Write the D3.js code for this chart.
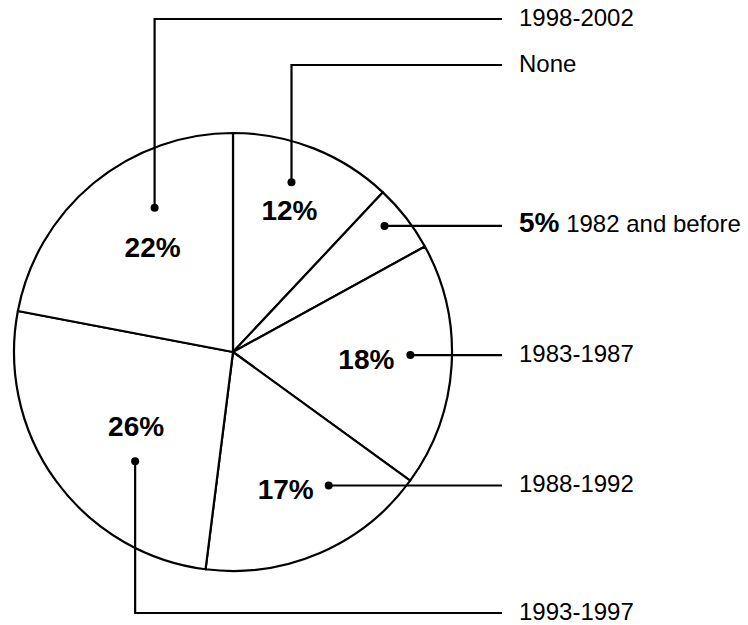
<!DOCTYPE html>
<html>
<head>
<meta charset="utf-8">
<script src="https://cdn.jsdelivr.net/npm/d3@7"></script>
<style>
  body { margin: 0; background: #fff; }
  svg { display: block; font-family: "Liberation Sans", Arial, Helvetica, sans-serif; }
</style>
</head>
<body>
<svg id="chart" width="748" height="625"></svg>
<script>
// slices in clockwise order, starting at 12 o'clock
var categories = ["None", "1982 and before", "1983-1987", "1988-1992", "1993-1997", "1998-2002"];
var values = [12, 5, 18, 17, 26, 22];

// callout layout: where the dot sits inside its slice (fraction of the slice angle, fraction of radius),
// how the leader runs out to the right, and where the bold percent goes relative to the dot
var callouts = [
  { t: 0.44, r: 0.82, elbowY: 65,   pct: [-2, 38, "middle"] },
  { t: 0.39, r: 0.90, elbowY: null, pct: null },
  { t: 0.46, r: 0.81, elbowY: null, pct: [-16, 14, "end"] },
  { t: 0.30, r: 0.75, elbowY: null, pct: [-15, 14, "end"] },
  { t: 0.37, r: 0.67, elbowY: 613,  pct: [1, -25, "middle"] },
  { t: 0.64, r: 0.75, elbowY: 19,   pct: [-2, 49, "middle"] }
];

var cx = 233, cy = 352, R = 219;
var lineEnd = 502, textX = 519;

var svg = d3.select("#chart");
var g = svg.append("g").attr("transform", "translate(" + cx + "," + cy + ")");

var pie = d3.pie().sort(null).value(function(d){ return d; });
var arcs = pie(values);
var arc = d3.arc().innerRadius(0).outerRadius(R);

g.selectAll("path.slice")
  .data(arcs)
  .enter().append("path")
  .attr("class", "slice")
  .attr("d", arc)
  .attr("fill", "#fff")
  .attr("stroke", "#000")
  .attr("stroke-width", 2.2)
  .attr("stroke-linejoin", "round");

// dot position for a slice
function dotPos(a, c) {
  var ang = a.startAngle + c.t * (a.endAngle - a.startAngle);
  var rr = c.r * R;
  return [cx + rr * Math.sin(ang), cy - rr * Math.cos(ang)];
}

arcs.forEach(function(a, i){
  var c = callouts[i];
  var p = dotPos(a, c);
  var lineY = c.elbowY === null ? p[1] : c.elbowY;
  var pts = [p];
  if (c.elbowY !== null) pts.push([p[0], c.elbowY]);
  pts.push([lineEnd, lineY]);

  svg.append("path")
    .attr("d", d3.line()(pts))
    .attr("fill", "none")
    .attr("stroke", "#000")
    .attr("stroke-width", 2.2);

  svg.append("circle")
    .attr("cx", p[0]).attr("cy", p[1]).attr("r", 4)
    .attr("fill", "#000");

  var txt = svg.append("text")
    .attr("x", textX)
    .attr("y", lineY + 6.5)
    .attr("fill", "#000")
    .style("font-size", "24px");

  if (c.pct === null) {
    // percent goes inline, bold, before the category
    txt.append("tspan").style("font-weight", "bold").style("font-size", "28px")
      .text(values[i] + "%");
    txt.append("tspan").text(" " + categories[i]);
  } else {
    txt.text(categories[i]);
    svg.append("text")
      .attr("x", p[0] + c.pct[0])
      .attr("y", p[1] + c.pct[1])
      .attr("text-anchor", c.pct[2])
      .style("font-size", "28px")
      .style("font-weight", "bold")
      .text(values[i] + "%");
  }
});
</script>
</body>
</html>
